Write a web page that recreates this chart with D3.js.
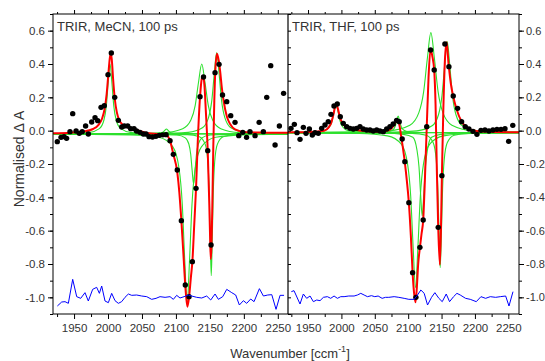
<!DOCTYPE html>
<html>
<head>
<meta charset="utf-8">
<script src="https://cdn.jsdelivr.net/npm/d3@7"></script>
<style>
  body { margin: 0; background: #fff; }
  text { font-family: "Liberation Sans", Arial, sans-serif; }
</style>
</head>
<body>
<svg id="chart"></svg>
<script>
const W = 545;
const H = 361;

// ── Data ──────────────────────────────────────────────────────────────────────

const X_MAJOR = [1950, 2000, 2050, 2100, 2150, 2200, 2250];
const Y_MAJOR = [-1.0, -0.8, -0.6, -0.4, -0.2, 0.0, 0.2, 0.4, 0.6];

// experimental points [wavenumber, normalised dA]
const MECN_DOTS = [
  [1925.3,-0.066],[1930.8,-0.04],[1935.2,-0.036],[1939,-0.046],[1944,-0.006],[1948,0.102],
  [1953,-0.002],[1957.7,-0.016],[1962,-0.006],[1967,0.028],[1971,-0.02],[1976,0.052],
  [1980.9,0.078],[1984.8,0.06],[1989.7,0.14],[1994.5,0.15],[2000,0.336],[2004.9,0.466],
  [2009.9,0.2],[2015.2,0.062],[2020.2,0.022],[2024,0.028],[2029,0.028],[2033.4,0.012],
  [2038.3,0.012],[2042,-0.002],[2047,-0.01],[2052,-0.02],[2056,-0.02],[2060.4,-0.036],
  [2065.5,-0.038],[2070.5,-0.034],[2075.5,-0.028],[2080.5,-0.025],[2085.5,-0.024],
  [2091.3,-0.06],[2096.2,-0.142],[2102,-0.236],[2108,-0.54],[2113.8,-0.926],[2119.3,-0.996],
  [2124.2,-0.786],[2129.6,-0.346],[2135.5,0.204],[2140.6,0.322],[2146.8,-0.12],
  [2151.7,-0.686],[2157.6,0.348],[2163.5,0.398],[2168.6,0.214],[2174.8,0.174],[2180.7,0.09],
  [2187,0.05],[2192.5,-0.03],[2198.4,-0.01],[2204,-0.04],[2209,-0.006],[2216.5,-0.03],
  [2222.5,0.05],[2228.7,-0.006],[2233.7,0.2],[2239.6,0.39],[2246,-0.086],[2252.3,0.028],
  [2258.5,0.224],
];

const THF_DOTS = [
  [1924.5,0.014],[1929.5,0.038],[1933.5,-0.012],[1938,-0.052],[1943,0.02],[1947,-0.016],
  [1952,0.01],[1956.4,-0.026],[1960.4,-0.012],[1965.4,-0.016],[1970.4,0.014],[1975.4,0.034],
  [1980.3,0.054],[1984.4,0.098],[1988.9,0.148],[1993.8,0.16],[1998.3,0.084],[2002.8,0.044],
  [2007.9,0.024],[2012.8,0.014],[2017.8,0.01],[2022.8,0.014],[2027.8,0.024],[2032.7,0.01],
  [2037.8,0.004],[2042.8,0.004],[2047.7,-0.002],[2052.8,0.004],[2057.7,-0.002],
  [2062.7,-0.006],[2067.8,0.01],[2072.7,0.024],[2077.6,0.04],[2082.7,0.062],[2086.6,0.054],
  [2091,-0.05],[2095,-0.186],[2101,-0.432],[2106.6,-0.852],[2111.6,-1.0],[2117.6,-0.7],
  [2122.5,-0.536],[2127.8,0.024],[2133.6,0.484],[2139,0.364],[2145,-0.58],[2150.5,-0.27],
  [2155,0.52],[2161,0.384],[2167.5,0.208],[2174,0.134],[2180,0.054],[2185.5,0.024],
  [2191,0.01],[2197,-0.004],[2203,-0.022],[2209,0.002],[2215,0.004],[2221,-0.002],
  [2227,0.004],[2233,0.008],[2239,0.008],[2245,0.012],[2250.5,-0.064],[2256.7,0.032],
];

// total fit (red)
const MECN_FIT = [
  [1919,-0.015],[1945,-0.012],[1965,-0.004],[1978,0.01],[1986,0.035],[1991,0.07],[1995,0.13],
  [1998,0.22],[2000.5,0.34],[2002.5,0.43],[2004,0.465],[2005.5,0.43],[2007.5,0.31],
  [2010,0.19],[2013,0.11],[2017,0.06],[2022,0.035],[2030,0.018],[2045,0.0],[2060,-0.016],
  [2075,-0.02],[2085,-0.025],[2091.3,-0.06],[2096.2,-0.142],[2102,-0.25],[2105,-0.37],
  [2108,-0.54],[2111,-0.74],[2113.8,-0.93],[2116.8,-1.056],[2119.3,-1.0],[2122,-0.88],
  [2124.2,-0.786],[2127,-0.56],[2129.6,-0.346],[2132,-0.08],[2135.5,0.204],[2138,0.31],
  [2140,0.33],[2142,0.27],[2144,0.12],[2146.8,-0.12],[2149,-0.42],[2150.3,-0.64],
  [2151.3,-0.77],[2152.3,-0.70],[2153.6,-0.45],[2155,-0.1],[2156.5,0.18],[2158,0.36],
  [2160.5,0.462],[2163,0.42],[2165,0.36],[2167.5,0.26],[2170,0.184],[2175,0.085],
  [2180,0.038],[2187,0.008],[2204,-0.01],[2230,-0.012],[2265,-0.013],
];

const THF_FIT = [
  [1920,-0.01],[1960,-0.006],[1974,0.0],[1981,0.02],[1985,0.05],[1988.5,0.105],[1991.5,0.16],
  [1994.5,0.135],[1997.5,0.085],[2001,0.048],[2008,0.02],[2020,0.005],[2040,-0.003],
  [2060,-0.006],[2070,0.002],[2076,0.018],[2080,0.042],[2083.5,0.066],[2086,0.05],
  [2089,-0.02],[2092,-0.1],[2095,-0.19],[2098,-0.3],[2101,-0.43],[2104,-0.63],[2106.6,-0.85],
  [2109,-0.98],[2111,-1.03],[2113,-0.94],[2115,-0.80],[2117.6,-0.70],[2120,-0.62],
  [2122.5,-0.536],[2125,-0.3],[2127.8,0.02],[2130.5,0.32],[2133.5,0.49],[2136,0.45],
  [2139,0.36],[2141,0.16],[2143,-0.25],[2145,-0.58],[2147.5,-0.805],[2149.3,-0.55],
  [2150.5,-0.27],[2152.5,0.10],[2155,0.42],[2157.6,0.53],[2160.5,0.40],[2164,0.28],
  [2167.5,0.205],[2172.5,0.128],[2180,0.055],[2186,0.025],[2195,0.005],[2210,-0.005],
  [2266,-0.01],
];

// individual fit components (green)
const MECN_COMPONENTS = [
  [[1920,-0.019],[1940,-0.018],[1971.5,-0.012],[1987.3,0.012],[1994,0.064],[1997.6,0.152],
   [2000.3,0.289],[2003,0.40],[2005.7,0.289],[2008.4,0.152],[2012,0.064],[2018.8,0.012],
   [2034.5,-0.012],[2066,-0.018],[2265,-0.02]],
  [[1920,-0.02],[2058,-0.019],[2072,-0.018],[2078,-0.014],[2081.2,-0.008],[2083.6,0.002],
   [2086,0.01],[2088.4,0.002],[2090.8,-0.008],[2094,-0.014],[2100,-0.018],[2114,-0.019],
   [2265,-0.02]],
  [[1920,-0.019],[2026,-0.018],[2082,-0.012],[2110,0.012],[2122,0.064],[2128.4,0.152],
   [2133.2,0.289],[2138,0.40],[2142.8,0.289],[2147.6,0.152],[2154,0.064],[2166,0.012],
   [2194,-0.012],[2250,-0.018],[2265,-0.018]],
  [[1920,-0.02],[2076,-0.017],[2118,-0.010],[2139,0.017],[2148,0.078],[2152.8,0.18],
   [2156.4,0.339],[2160,0.468],[2163.6,0.339],[2167.2,0.18],[2172,0.078],[2181,0.017],
   [2202,-0.010],[2244,-0.017],[2265,-0.018]],
  [[1920,-0.02],[2077,-0.022],[2101.5,-0.026],[2113.8,-0.043],[2119,-0.08],[2121.8,-0.143],
   [2123.9,-0.24],[2126,-0.32],[2128.1,-0.24],[2130.2,-0.143],[2133,-0.08],[2138.3,-0.043],
   [2150.5,-0.026],[2175,-0.022],[2265,-0.02]],
  [[1920,-0.021],[2032.5,-0.025],[2074.5,-0.040],[2095.5,-0.097],[2104.5,-0.224],
   [2109.3,-0.438],[2112.9,-0.77],[2116.5,-1.04],[2120.1,-0.77],[2123.7,-0.438],
   [2128.5,-0.224],[2137.5,-0.097],[2158.5,-0.040],[2200.5,-0.025],[2265,-0.021]],
  [[1920,-0.02],[2117,-0.024],[2134.5,-0.037],[2143.3,-0.084],[2147,-0.19],[2149,-0.369],
   [2150.5,-0.645],[2152,-0.87],[2153.5,-0.645],[2155,-0.369],[2157,-0.19],[2160.8,-0.084],
   [2169.5,-0.037],[2187,-0.024],[2265,-0.02]],
];

const THF_COMPONENTS = [
  [[1920,-0.011],[1957,-0.009],[1974.5,0.001],[1982,0.022],[1986,0.058],[1989,0.113],
   [1992,0.158],[1995,0.113],[1998,0.058],[2002,0.022],[2009.5,0.001],[2027,-0.009],
   [2062,-0.011],[2266,-0.012]],
  [[1920,-0.012],[2036,-0.0115],[2060.5,-0.010],[2072.8,-0.004],[2078,0.008],[2080.8,0.029],
   [2082.9,0.062],[2085,0.088],[2087.1,0.062],[2089.2,0.029],[2092,0.008],[2097.3,-0.004],
   [2109.5,-0.010],[2134,-0.0115],[2266,-0.012]],
  [[1920,-0.013],[2027,-0.017],[2069,-0.031],[2090,-0.082],[2099,-0.198],[2103.8,-0.393],
   [2107.4,-0.696],[2111,-0.942],[2114.6,-0.696],[2118.2,-0.393],[2123,-0.198],[2132,-0.082],
   [2153,-0.031],[2195,-0.017],[2266,-0.013]],
  [[1920,-0.012],[2065,-0.0146],[2093,-0.022],[2107,-0.040],[2113,-0.112],[2116.2,-0.217],
   [2118.6,-0.38],[2121,-0.512],[2123.4,-0.38],[2125.8,-0.217],[2129,-0.112],[2135,-0.040],
   [2149,-0.022],[2177,-0.0146],[2266,-0.012]],
  [[1920,-0.011],[2008,-0.009],[2071,0.0],[2102.5,0.033],[2116,0.108],[2123.2,0.234],
   [2128.6,0.429],[2134,0.588],[2139.4,0.429],[2144.8,0.234],[2152,0.108],[2165.5,0.033],
   [2197,0.0],[2260,-0.009],[2266,-0.009]],
  [[1920,-0.012],[2106,-0.016],[2127,-0.028],[2137.5,-0.073],[2142,-0.174],[2144.4,-0.344],
   [2146.2,-0.607],[2148,-0.822],[2149.8,-0.607],[2151.6,-0.344],[2154,-0.174],
   [2158.5,-0.073],[2169,-0.028],[2190,-0.016],[2266,-0.012]],
  [[1920,-0.0116],[2067.5,-0.009],[2113,-0.001],[2135.8,0.029],[2145.5,0.097],[2150.7,0.212],
   [2154.6,0.389],[2158.5,0.534],[2162.4,0.389],[2166.3,0.212],[2171.5,0.097],[2181.3,0.029],
   [2204,-0.001],[2249.5,-0.009],[2266,-0.010]],
];

// residuals, plotted offset to -1 (blue)
const MECN_RESIDUAL = [
  [1925.4,-1.052],[1931.8,-1.028],[1936.7,-1.026],[1941.6,-1.036],[1948,-0.892],[1953.9,-0.996],
  [1959.8,-1.006],[1966.1,-0.972],[1971,-1.022],[1977.4,-0.952],[1983.3,-0.94],[1987.3,-0.976],
  [1990.7,-0.932],[1995.6,-1.022],[2000.5,-1.032],[2005.4,-0.976],[2010.3,-1.02],
  [2015.2,-1.036],[2020.1,-1.026],[2025,-1.0],[2030,-0.98],[2034.9,-0.988],[2042.2,-0.986],
  [2049.6,-0.992],[2057,-0.996],[2064.3,-1.012],[2070.7,-1.006],[2076.6,-0.996],[2084,-1.0],
  [2091.3,-0.996],[2096.2,-1.012],[2101.1,-0.988],[2106,-1.004],[2112,-0.996],[2118.3,-0.986],
  [2123.2,-0.992],[2130.6,-1.0],[2138,-1.004],[2145.3,-0.992],[2151.2,-1.016],[2157.6,-0.98],
  [2162.5,-1.012],[2168.9,-0.996],[2174.8,-0.952],[2182.2,-0.972],[2188,-0.986],
  [2193.4,-1.046],[2199.3,-1.02],[2204.2,-1.036],[2210.1,-1.01],[2215,-1.026],[2222.9,-0.948],
  [2228.8,-0.992],[2235.2,-0.986],[2241.1,-0.984],[2247.4,-1.072],[2253.3,-0.988],
  [2259.2,-0.988],
];

const THF_RESIDUAL = [
  [1925,-0.966],[1929,-0.96],[1938,-1.04],[1943,-0.98],[1948,-1.006],[1953,-0.992],
  [1958,-1.026],[1963,-1.016],[1968,-1.02],[1973,-1.0],[1979,-0.996],[1984,-1.006],
  [1989,-0.992],[1994,-1.006],[1999,-0.996],[2004,-0.996],[2011,-0.992],[2019,-0.992],
  [2024,-0.986],[2029,-0.976],[2034,-0.986],[2039,-0.996],[2045,-0.99],[2050,-0.996],
  [2055,-0.992],[2061,-1.006],[2066,-1.0],[2071,-1.0],[2079,-0.996],[2086,-1.0],
  [2094,-1.006],[2101,-1.012],[2109,-1.012],[2114,-0.986],[2119,-0.956],[2124,-0.976],
  [2129,-1.046],[2135,-1.0],[2140,-0.972],[2146,-1.006],[2151,-1.026],[2157,-0.98],
  [2162,-1.026],[2168,-0.996],[2173,-0.976],[2178,-0.986],[2186,-1.006],[2193,-1.012],
  [2202,-1.026],[2209,-0.996],[2216,-1.006],[2223,-0.996],[2231,-1.0],[2238,-0.996],
  [2246,-0.992],[2251,-1.052],[2257,-0.966],
];

// ── Layout ────────────────────────────────────────────────────────────────────

const TOP = 14, BOTTOM = 314, LEFT = 53, MID = 288, RIGHT = 519;
const INK = '#333';
const GREEN = '#2de02d';

const svg = d3.select('#chart').attr('width', W).attr('height', H);

const y = d3.scaleLinear().domain([-1.1, 0.7]).range([BOTTOM, TOP]);
const yMinor = d3.range(-11, 8).map(d => d / 10);
const fmtY = d => d.toFixed(1);
const fmtX = d => String(d);

const panels = [
  { label: 'TRIR, MeCN, 100 ps', x0: LEFT, x1: MID, domain: [1919, 2265],
    dots: MECN_DOTS, fit: MECN_FIT, comps: MECN_COMPONENTS, resid: MECN_RESIDUAL },
  { label: 'TRIR, THF, 100 ps', x0: MID, x1: RIGHT, domain: [1920, 2266],
    dots: THF_DOTS, fit: THF_FIT, comps: THF_COMPONENTS, resid: THF_RESIDUAL },
];

function styleAxis(g) {
  g.select('.domain').remove();
  g.selectAll('line').attr('stroke', '#000');
  g.selectAll('text').attr('fill', INK).style('font-size', '11px');
}

panels.forEach((p, i) => {
  const x = d3.scaleLinear().domain(p.domain).range([p.x0, p.x1]);
  const xMinor = d3.range(1925, 2275, 25).filter(d => d % 50 !== 0);

  svg.append('clipPath').attr('id', 'clip' + i)
    .append('rect')
    .attr('x', p.x0).attr('y', TOP)
    .attr('width', p.x1 - p.x0).attr('height', BOTTOM - TOP);

  const g = svg.append('g').attr('clip-path', `url(#clip${i})`);
  const smooth = d3.line().x(d => x(d[0])).y(d => y(d[1])).curve(d3.curveMonotoneX);
  const straight = d3.line().x(d => x(d[0])).y(d => y(d[1]));

  g.selectAll('path.comp')
    .data(p.comps)
    .join('path')
    .attr('class', 'comp')
    .attr('d', smooth)
    .attr('fill', 'none')
    .attr('stroke', GREEN)
    .attr('stroke-width', 1.1);

  g.append('path')
    .datum(p.fit)
    .attr('d', smooth)
    .attr('fill', 'none')
    .attr('stroke', '#ff0000')
    .attr('stroke-width', 2);

  g.selectAll('circle')
    .data(p.dots)
    .join('circle')
    .attr('cx', d => x(d[0]))
    .attr('cy', d => y(d[1]))
    .attr('r', 2.7)
    .attr('fill', '#000');

  g.append('path')
    .datum(p.resid)
    .attr('d', straight)
    .attr('fill', 'none')
    .attr('stroke', '#0000ff')
    .attr('stroke-width', 1);

  // bottom & top ticks
  svg.append('g').attr('transform', `translate(0,${BOTTOM})`)
    .call(d3.axisBottom(x).tickValues(X_MAJOR).tickFormat(fmtX).tickSize(5).tickPadding(5).tickSizeOuter(0))
    .call(styleAxis)
    .call(g => g.selectAll('text').style('font-size', '11.5px'));
  svg.append('g').attr('transform', `translate(0,${BOTTOM})`)
    .call(d3.axisBottom(x).tickValues(xMinor).tickSize(3).tickFormat('').tickSizeOuter(0))
    .call(styleAxis);
  svg.append('g').attr('transform', `translate(0,${TOP})`)
    .call(d3.axisTop(x).tickValues(X_MAJOR).tickSize(4).tickFormat('').tickSizeOuter(0))
    .call(styleAxis);
  svg.append('g').attr('transform', `translate(0,${TOP})`)
    .call(d3.axisTop(x).tickValues(xMinor).tickSize(2).tickFormat('').tickSizeOuter(0))
    .call(styleAxis);

  svg.append('text')
    .attr('x', p.x0 + 4)
    .attr('y', 31)
    .attr('fill', INK)
    .style('font-size', '13px')
    .text(p.label);
});

// y axes
svg.append('g').attr('transform', `translate(${LEFT},0)`)
  .call(d3.axisLeft(y).tickValues(Y_MAJOR).tickFormat(fmtY).tickSize(5).tickPadding(3).tickSizeOuter(0))
  .call(styleAxis)
  .call(g => g.selectAll('text').style('font-size', '11.5px'));
svg.append('g').attr('transform', `translate(${LEFT},0)`)
  .call(d3.axisLeft(y).tickValues(yMinor).tickFormat('').tickSize(3).tickSizeOuter(0))
  .call(styleAxis);
svg.append('g').attr('transform', `translate(${RIGHT},0)`)
  .call(d3.axisRight(y).tickValues(Y_MAJOR).tickFormat(fmtY).tickSize(5).tickPadding(2).tickSizeOuter(0))
  .call(styleAxis);
svg.append('g').attr('transform', `translate(${RIGHT},0)`)
  .call(d3.axisRight(y).tickValues(yMinor).tickFormat('').tickSize(3).tickSizeOuter(0))
  .call(styleAxis);
svg.append('g').attr('transform', `translate(${MID},0)`)
  .call(d3.axisRight(y).tickValues(yMinor).tickFormat('').tickSize(3).tickSizeOuter(0))
  .call(styleAxis);

// frame
svg.append('rect')
  .attr('x', LEFT).attr('y', TOP)
  .attr('width', RIGHT - LEFT).attr('height', BOTTOM - TOP)
  .attr('fill', 'none').attr('stroke', '#000').attr('stroke-width', 1);
svg.append('line')
  .attr('x1', MID).attr('x2', MID).attr('y1', TOP).attr('y2', BOTTOM)
  .attr('stroke', '#000').attr('stroke-width', 1.2);

// axis titles
const xt = svg.append('text')
  .attr('x', 290).attr('y', 358)
  .attr('text-anchor', 'middle')
  .attr('fill', INK)
  .style('font-size', '13px');
xt.append('tspan').text('Wavenumber [ccm');
xt.append('tspan').attr('dy', -6).style('font-size', '9px').text('-1');
xt.append('tspan').attr('dy', 6).text(']');

svg.append('text')
  .attr('transform', 'translate(24,159) rotate(-90)')
  .attr('text-anchor', 'middle')
  .attr('fill', INK)
  .style('font-size', '14px')
  .text('Normalised \u0394 A');
</script>
</body>
</html>
